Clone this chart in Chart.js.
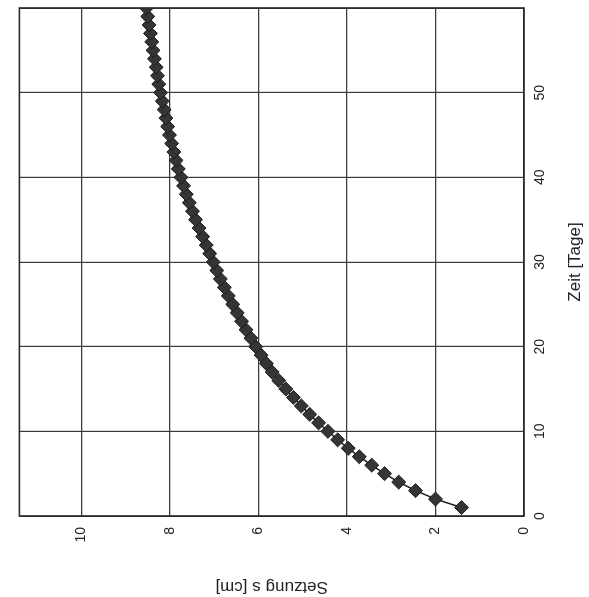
<!DOCTYPE html>
<html>
<head>
<meta charset="utf-8">
<script src="https://cdn.jsdelivr.net/npm/chart.js@4"></script>
<style>
  html, body { margin: 0; padding: 0; background: #fff; overflow: hidden; }
  /* the chart is drawn upright and then turned a quarter turn to the left */
  #wrap {
    position: absolute; left: 0; top: 0;
    width: 597px; height: 589px;
    transform-origin: 0 0;
    transform: translate(0, 597px) rotate(-90deg);
  }
</style>
</head>
<body>
<div id="wrap"><canvas id="settlementChart" width="597" height="589"></canvas></div>
<script>
// Zeit [Tage]
const days = [
  1, 2, 3, 4, 5, 6, 7, 8, 9, 10,
  11, 12, 13, 14, 15, 16, 17, 18, 19, 20,
  21, 22, 23, 24, 25, 26, 27, 28, 29, 30,
  31, 32, 33, 34, 35, 36, 37, 38, 39, 40,
  41, 42, 43, 44, 45, 46, 47, 48, 49, 50,
  51, 52, 53, 54, 55, 56, 57, 58, 59, 60
];
// Setzung s [cm]
const settlement = [
  1.41, 2.00, 2.45, 2.83, 3.15, 3.44, 3.72, 3.97, 4.21, 4.43,
  4.64, 4.84, 5.03, 5.21, 5.38, 5.54, 5.69, 5.82, 5.94, 6.06,
  6.17, 6.28, 6.38, 6.48, 6.58, 6.68, 6.77, 6.86, 6.94, 7.02,
  7.10, 7.18, 7.26, 7.34, 7.42, 7.49, 7.56, 7.63, 7.69, 7.75,
  7.81, 7.86, 7.91, 7.96, 8.01, 8.05, 8.09, 8.13, 8.17, 8.21,
  8.25, 8.28, 8.31, 8.35, 8.38, 8.41, 8.44, 8.47, 8.50, 8.53
];
const timeMax = 60;
const settlementMax = 11.4;

Chart.defaults.font.family = "'Liberation Sans', Arial, sans-serif";
Chart.defaults.font.size = 14;
Chart.defaults.color = '#222';

// frame round the plot area
const framePlugin = {
  id: 'frame',
  afterDraw(chart) {
    const a = chart.chartArea;
    const ctx = chart.ctx;
    ctx.save();
    ctx.strokeStyle = '#2a2a2a';
    ctx.lineWidth = 1.6;
    ctx.strokeRect(a.left, a.top, a.right - a.left, a.bottom - a.top);
    ctx.restore();
  }
};

const ctx = document.getElementById('settlementChart').getContext('2d');
new Chart(ctx, {
  type: 'line',
  data: {
    datasets: [{
      data: days.map((d, i) => ({ x: d, y: settlement[i] })),
      borderColor: '#1e1e1e',
      borderWidth: 1.5,
      pointStyle: 'rectRot',
      pointRadius: 7,
      pointBackgroundColor: '#353535',
      pointBorderColor: '#1a1a1a',
      pointBorderWidth: 1,
      tension: 0
    }]
  },
  options: {
    responsive: false,
    animation: false,
    events: [],
    layout: { padding: { top: 13, right: 5, left: 0, bottom: 0 } },
    plugins: { legend: { display: false }, tooltip: { enabled: false } },
    scales: {
      x: {
        type: 'linear',
        min: 0,
        max: timeMax,
        border: { display: false },
        grid: { color: '#3a3a3a', lineWidth: 1.2, drawTicks: false },
        ticks: {
          stepSize: 10,
          padding: 8,
          maxRotation: 0,
          callback: v => (v === timeMax ? '' : v)
        },
        title: {
          display: true,
          text: 'Zeit [Tage]',
          font: { size: 17 },
          padding: { top: 4, bottom: 3 }
        },
        afterFit: scale => { scale.height = 65; }
      },
      y: {
        type: 'linear',
        min: 0,
        max: settlementMax,
        border: { display: false },
        grid: { color: '#3a3a3a', lineWidth: 1.2, drawTicks: false },
        ticks: { stepSize: 2, padding: 11, includeBounds: false },
        title: {
          display: true,
          text: 'Setzung s [cm]',
          font: { size: 17 },
          padding: { top: 0, bottom: 4 }
        },
        afterFit: scale => { scale.width = 81; }
      }
    }
  },
  plugins: [framePlugin]
});
</script>
</body>
</html>
